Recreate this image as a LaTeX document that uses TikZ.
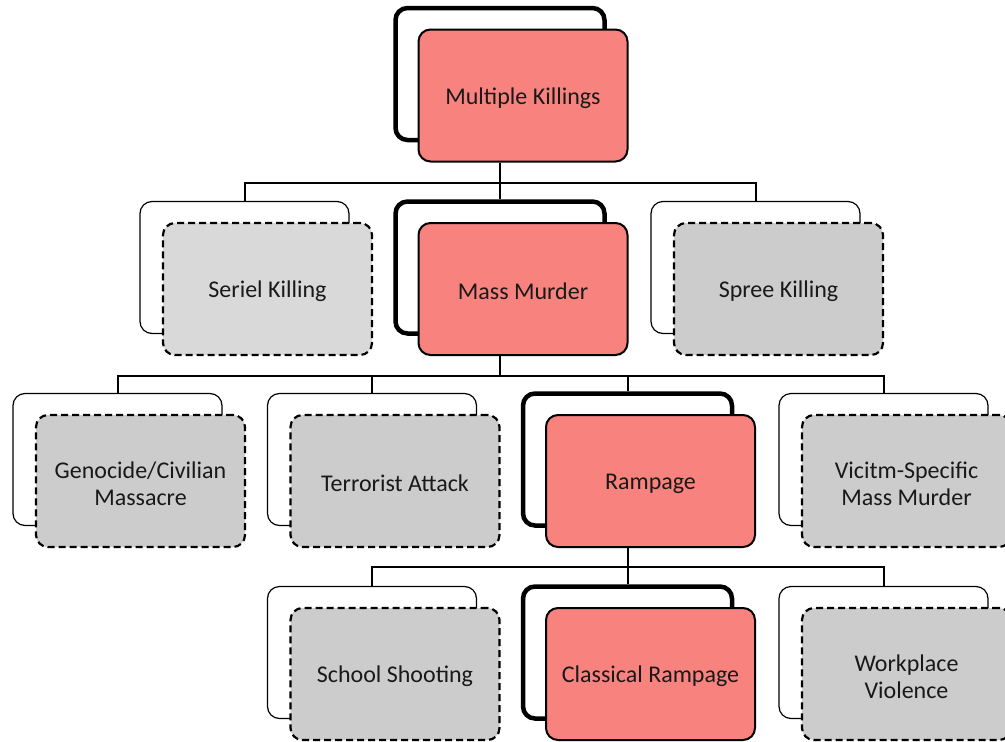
\documentclass[tikz,border=0pt]{standalone}
\usepackage{fontspec}
\setmainfont{Carlito}
\definecolor{hotred}{HTML}{F8837E}
\definecolor{graylight}{HTML}{D9D9D9}
\definecolor{graymid}{HTML}{CCCCCC}
\begin{document}
\begin{tikzpicture}[x=1pt,y=-1pt]
\tikzset{
  boxbase/.style={rounded corners=12pt, minimum width=209pt, minimum height=132pt, inner sep=0pt},
  hot/.style={boxbase, fill=hotred, draw=black, line width=2pt},
  cool/.style={boxbase, fill=graymid, draw=black, dash pattern=on 7pt off 4pt, line width=2.2pt},
  coollight/.style={cool, fill=graylight},
  backbold/.style={boxbase, draw=black, fill=white, line width=4.5pt},
  backthin/.style={boxbase, draw=black, fill=white, line width=1.2pt},
  txt/.style={inner sep=0pt, align=center, font=\fontsize{24}{27}\selectfont, text=black!90, yshift=-2.5pt},
  link/.style={draw=black, line width=2pt}
}
\useasboundingbox (0,0) rectangle (1005,742);
% back boxes
\node[backbold] (mkb)  at (500,74) {};
\node[backthin] (skb)  at (244.5,267.5) {};
\node[backbold] (mmb)  at (500,267.5) {};
\node[backthin] (spkb) at (755.5,267.5) {};
\node[backthin] (gcb)  at (117.5,459.5) {};
\node[backthin] (tab)  at (372,459.5) {};
\node[backbold] (rab)  at (627.5,459.5) {};
\node[backthin] (vsb)  at (883.5,459.5) {};
\node[backthin] (ssb)  at (372,652.5) {};
\node[backbold] (crb)  at (627.5,652.5) {};
\node[backthin] (wvb)  at (883.5,652.5) {};
% front boxes
\node[hot] (mk) at (523,95.5) {};
\node[coollight] (sk) at (267.5,289) {};
\node[hot] (mm) at (523,289) {};
\node[cool] (spk) at (778.5,289) {};
\node[cool] (gc) at (140.5,481) {};
\node[cool] (ta) at (395,481) {};
\node[hot] (ra) at (650.5,481) {};
\node[cool] (vs) at (906.5,481) {};
\node[cool] (ss) at (395,674) {};
\node[hot] (cr) at (650.5,674) {};
\node[cool] (wv) at (906.5,674) {};
% texts
\node[txt] (mkt) at (mk.center) {Multiple Killings};
\node[txt] (skt) at (sk.center) {Seriel Killing};
\node[txt] (mmt) at (mm.center) {Mass Murder};
\node[txt] (spkt) at (spk.center) {Spree Killing};
\node[txt] (gct) at (gc.center) {Genocide/Civilian\\Massacre};
\node[txt] (tat) at (ta.center) {Terrorist Attack};
\node[txt] (rat) at (ra.center) {Rampage};
\node[txt] (vst) at (vs.center) {Vicitm-Specific\\Mass Murder};
\node[txt] (sst) at (ss.center) {School Shooting};
\node[txt] (crt) at (cr.center) {Classical Rampage};
\node[txt] (wvt) at (wv.center) {Workplace\\Violence};
% connectors
\foreach \c in {skb,mmb,spkb}{\draw[link] (mk.south -| mkb.center) -- ++(0,20) -| (\c.north);}
\foreach \c in {gcb,tab,rab,vsb}{\draw[link] (mm.south -| mmb.center) -- ++(0,20) -| (\c.north);}
\foreach \c in {ssb,crb,wvb}{\draw[link] (ra.south -| rab.center) -- ++(0,19) -| (\c.north);}
\end{tikzpicture}
\end{document}
